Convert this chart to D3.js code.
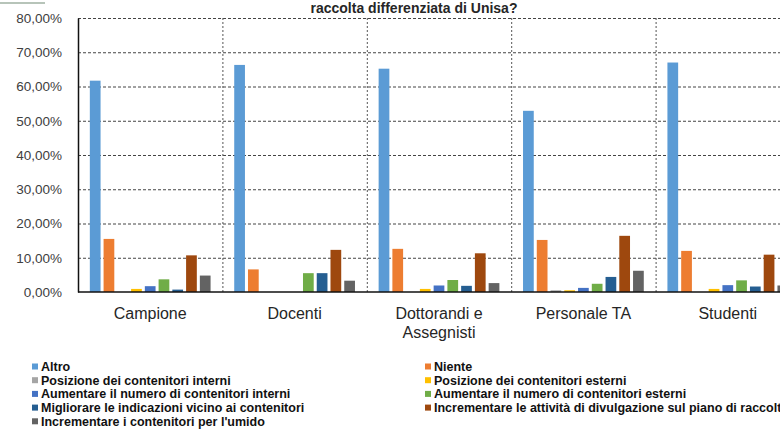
<!DOCTYPE html>
<html>
<head>
<meta charset="utf-8">
<script src="https://cdn.jsdelivr.net/npm/d3@7"></script>
<style>
  body { margin: 0; background: #fff; }
  svg { display: block; font-family: "Liberation Sans", Arial, sans-serif; }
</style>
</head>
<body>
<div class="chart"></div>
<script>
var svgWidth = 780;
var svgHeight = 429;

var margin = { top: 18, left: 78 };
var plotWidth = 722;   // runs past the right edge, as in the picture
var plotHeight = 274;

// data
var categories = [["Campione"], ["Docenti"], ["Dottorandi e", "Assegnisti"], ["Personale TA"], ["Studenti"]];
var seriesNames = [
  "Altro",
  "Niente",
  "Posizione dei contenitori interni",
  "Posizione dei contenitori esterni",
  "Aumentare il numero di contenitori interni",
  "Aumentare il numero di contenitori esterni",
  "Migliorare le indicazioni vicino ai contenitori",
  "Incrementare le attività di divulgazione sul piano di raccolta",
  "Incrementare i contenitori per l'umido"
];
var seriesColors = ["#5b9bd5", "#ed7d31", "#a5a5a5", "#ffc000", "#4472c4", "#70ad47", "#255e91", "#9e480e", "#636363"];
// one row per category, one value (%) per series
var values = [
  [61.7, 15.5, 0.0, 0.9, 1.7, 3.7, 0.7, 10.7, 4.8],
  [66.3, 6.6, 0.0, 0.0, 0.0, 5.5, 5.5, 12.3, 3.3],
  [65.2, 12.6, 0.0, 0.9, 1.9, 3.5, 1.8, 11.3, 2.6],
  [52.9, 15.2, 0.5, 0.5, 1.2, 2.4, 4.4, 16.4, 6.2],
  [67.0, 12.0, 0.0, 0.9, 2.0, 3.4, 1.6, 10.9, 1.9]
];
var yTicks = [0, 10, 20, 30, 40, 50, 60, 70, 80];
var titleText = "raccolta differenziata di Unisa?";

var svg = d3.select(".chart")
  .append("svg")
  .attr("width", svgWidth)
  .attr("height", svgHeight);

// little bar left over at the top left corner
svg.append("rect")
  .attr("x", 0).attr("y", 2)
  .attr("width", 45).attr("height", 2)
  .attr("fill", "#b7c4b9");

svg.append("text")
  .attr("x", 414)
  .attr("y", 13)
  .attr("text-anchor", "middle")
  .attr("font-size", 14)
  .attr("font-weight", "bold")
  .attr("fill", "#262626")
  .text(titleText);

var chartGroup = svg.append("g")
  .attr("transform", `translate(${margin.left}, ${margin.top})`);

var x0 = d3.scaleBand()
  .domain(d3.range(categories.length))
  .range([0, plotWidth]);

var x1 = d3.scaleBand()
  .domain(d3.range(seriesNames.length))
  .range([0, x0.bandwidth()])
  .paddingInner(0.22)
  .paddingOuter(0.86);

var y = d3.scaleLinear()
  .domain([0, 80])
  .range([plotHeight, 0]);

// horizontal gridlines
chartGroup.selectAll(".hgrid")
  .data(yTicks.filter(d => d > 0))
  .enter()
  .append("line")
  .attr("x1", 0)
  .attr("x2", plotWidth)
  .attr("y1", d => y(d) + 0.5)
  .attr("y2", d => y(d) + 0.5)
  .attr("stroke", "#444")
  .attr("stroke-width", 1)
  .attr("stroke-dasharray", "3,2");

// vertical dividers between categories
chartGroup.selectAll(".vgrid")
  .data(d3.range(1, categories.length))
  .enter()
  .append("line")
  .attr("x1", d => x0(d) + 0.5)
  .attr("x2", d => x0(d) + 0.5)
  .attr("y1", 0)
  .attr("y2", plotHeight)
  .attr("stroke", "#555")
  .attr("stroke-width", 1)
  .attr("stroke-dasharray", "2,2");

// bars
var groups = chartGroup.selectAll(".cat")
  .data(values)
  .enter()
  .append("g")
  .attr("transform", (d, i) => `translate(${x0(i)}, 0)`);

groups.selectAll("rect")
  .data(d => d)
  .enter()
  .append("rect")
  .attr("x", (d, i) => x1(i))
  .attr("y", d => y(d))
  .attr("width", x1.bandwidth())
  .attr("height", d => plotHeight - y(d))
  .attr("fill", (d, i) => seriesColors[i]);

// y axis
var leftAxis = d3.axisLeft(y)
  .tickValues(yTicks)
  .tickSize(0)
  .tickPadding(16)
  .tickFormat(d => d.toFixed(2).replace(".", ",") + "%");

var yAxis = chartGroup.append("g").call(leftAxis);
yAxis.select(".domain").attr("stroke", "#111").attr("stroke-width", 1.5);
yAxis.selectAll("text")
  .attr("font-size", 13.5)
  .attr("fill", "#404040")
  .attr("font-family", "Liberation Sans, Arial, sans-serif");

// x axis line
chartGroup.append("line")
  .attr("x1", 0)
  .attr("x2", plotWidth)
  .attr("y1", plotHeight)
  .attr("y2", plotHeight)
  .attr("stroke", "#111")
  .attr("stroke-width", 1.5);

// category labels
var catLabels = chartGroup.selectAll(".catlabel")
  .data(categories)
  .enter()
  .append("text")
  .attr("x", (d, i) => x0(i) + x0.bandwidth() / 2)
  .attr("y", plotHeight + 27)
  .attr("text-anchor", "middle")
  .attr("font-size", 16)
  .attr("fill", "#262626");

catLabels.selectAll("tspan")
  .data(d => d)
  .enter()
  .append("tspan")
  .attr("x", function() { return d3.select(this.parentNode).attr("x"); })
  .attr("dy", (d, i) => i === 0 ? 0 : 19)
  .text(d => d);

// legend: two columns, left column takes the even series
var legend = svg.append("g").attr("font-size", 12.5).attr("font-weight", "bold").attr("fill", "#111");

var legendItems = legend.selectAll(".item")
  .data(seriesNames)
  .enter()
  .append("g")
  .attr("transform", (d, i) => `translate(${i % 2 === 0 ? 32 : 425}, ${367 + Math.floor(i / 2) * 13.7})`);

legendItems.append("rect")
  .attr("x", 0)
  .attr("y", -3.5)
  .attr("width", 6)
  .attr("height", 6)
  .attr("fill", (d, i) => seriesColors[i]);

legendItems.append("text")
  .attr("x", 9)
  .attr("y", 4)
  .text(d => d);
</script>
</body>
</html>
